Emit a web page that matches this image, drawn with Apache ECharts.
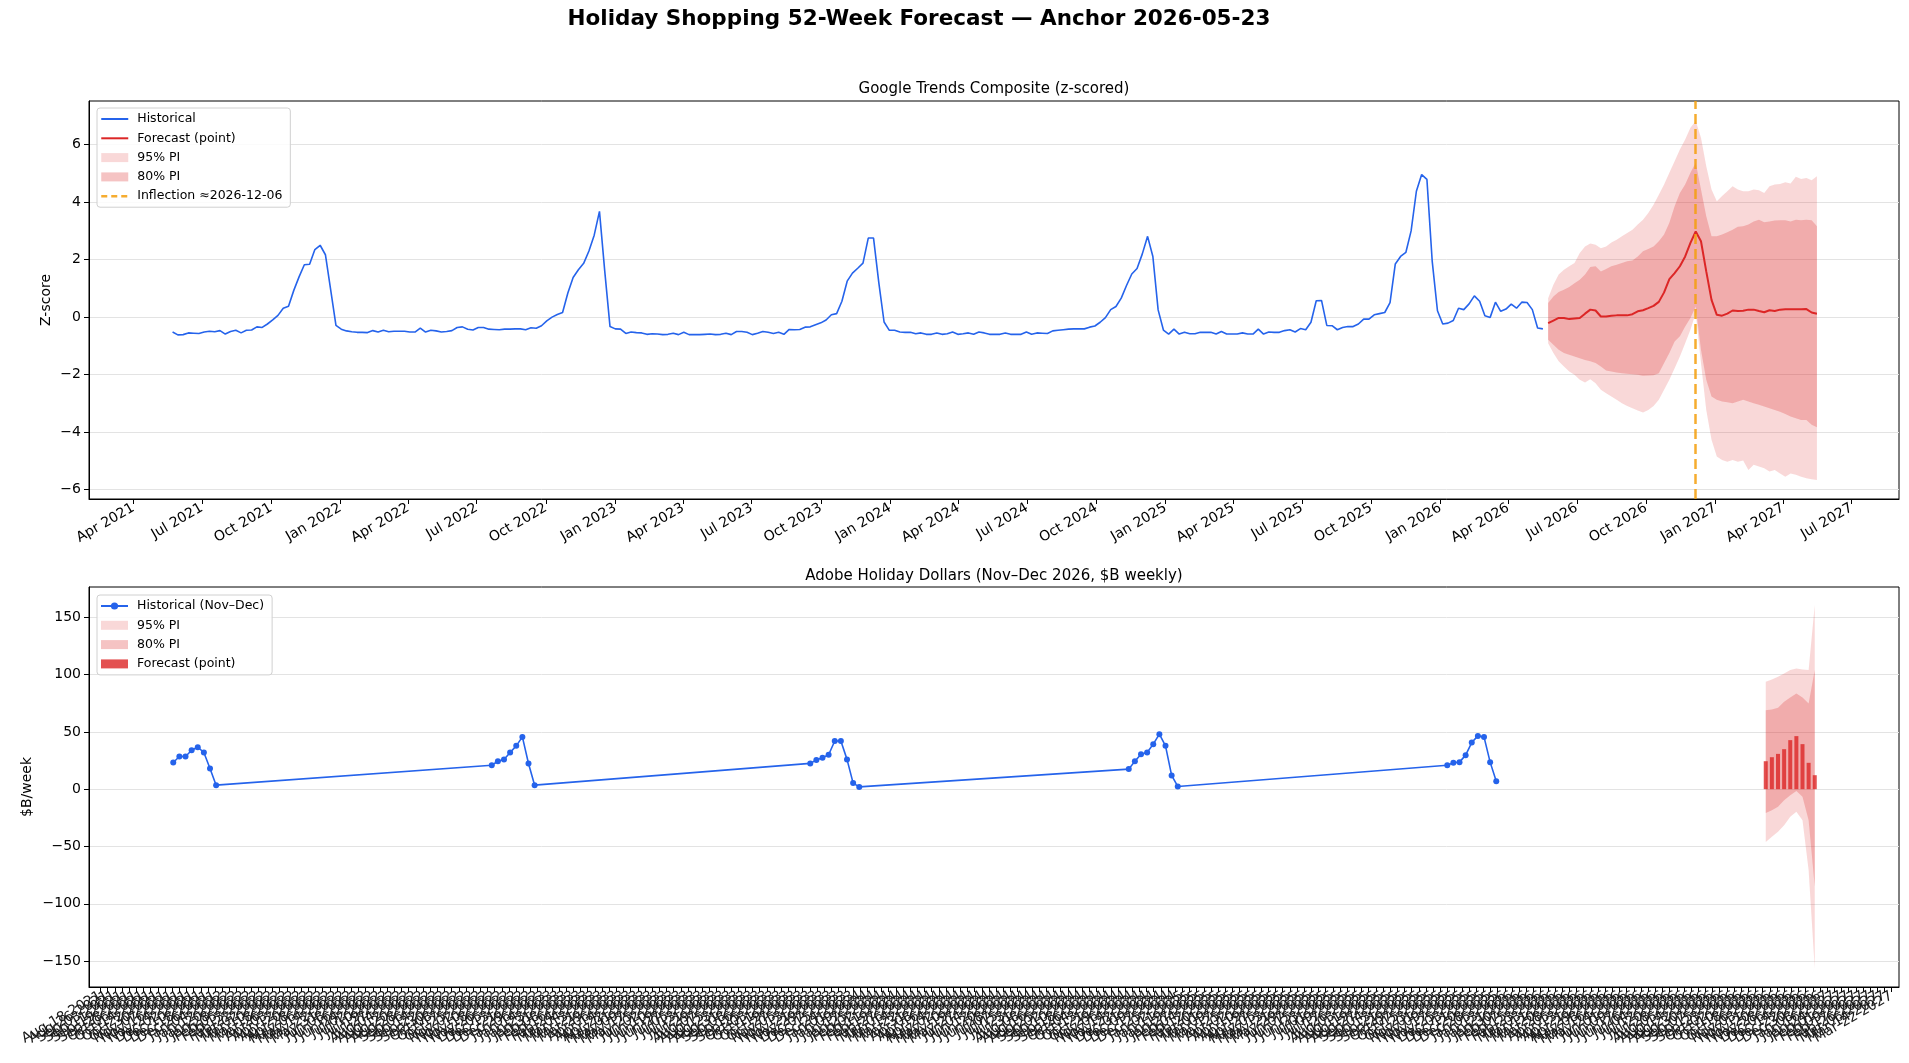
<!DOCTYPE html>
<html><head><meta charset="utf-8">
<script src="https://cdn.jsdelivr.net/npm/echarts@6/dist/echarts.min.js"></script>
<style>html,body{margin:0;padding:0;background:#fff}#c{width:1909px;height:1063px}</style>
</head><body><div id="c"></div>
<script>
// ---------------- DATA ----------------
const histStart = '2021-05-23';   // weekly (Sundays)
const histValues = [
 -0.52,-0.62,-0.61,-0.55,-0.56,-0.57,-0.52,-0.49,-0.51,-0.47,
 -0.59,-0.50,-0.46,-0.55,-0.46,-0.45,-0.34,-0.36,-0.24,-0.10,
  0.06, 0.31, 0.38, 0.93, 1.40, 1.82, 1.84, 2.35, 2.50, 2.17,
  0.95,-0.29,-0.42,-0.48,-0.51,-0.53,-0.53,-0.54,-0.47,-0.52,
 -0.46,-0.51,-0.49,-0.49,-0.49,-0.52,-0.52,-0.38,-0.52,-0.46,
 -0.48,-0.52,-0.50,-0.47,-0.36,-0.34,-0.42,-0.45,-0.36,-0.36,
 -0.42,-0.43,-0.44,-0.42,-0.42,-0.41,-0.41,-0.44,-0.37,-0.39,
 -0.30,-0.13, 0.00, 0.09, 0.16, 0.84, 1.38, 1.65, 1.87, 2.30,
  2.85, 3.68, 1.60,-0.33,-0.41,-0.42,-0.57,-0.52,-0.54,-0.55,
 -0.60,-0.58,-0.59,-0.61,-0.60,-0.56,-0.61,-0.53,-0.61,-0.61,
 -0.61,-0.60,-0.59,-0.61,-0.60,-0.56,-0.61,-0.50,-0.50,-0.53,
 -0.61,-0.56,-0.50,-0.53,-0.57,-0.53,-0.60,-0.43,-0.44,-0.43,
 -0.35,-0.34,-0.27,-0.20,-0.10, 0.08, 0.12, 0.55, 1.25, 1.53,
  1.70, 1.88, 2.75, 2.75, 1.20,-0.17,-0.46,-0.46,-0.52,-0.53,
 -0.53,-0.58,-0.55,-0.60,-0.60,-0.55,-0.60,-0.58,-0.52,-0.60,
 -0.58,-0.55,-0.60,-0.52,-0.55,-0.60,-0.60,-0.60,-0.55,-0.60,
 -0.60,-0.60,-0.52,-0.60,-0.55,-0.56,-0.57,-0.48,-0.46,-0.44,
 -0.42,-0.41,-0.41,-0.41,-0.35,-0.31,-0.18,-0.02, 0.26, 0.37,
  0.66, 1.10, 1.50, 1.69, 2.20, 2.81, 2.11, 0.25,-0.45,-0.59,
 -0.42,-0.59,-0.53,-0.58,-0.58,-0.53,-0.53,-0.53,-0.59,-0.50,
 -0.59,-0.59,-0.59,-0.55,-0.59,-0.59,-0.42,-0.59,-0.52,-0.53,
 -0.53,-0.47,-0.44,-0.52,-0.40,-0.44,-0.18, 0.57, 0.58,-0.29,
 -0.30,-0.44,-0.36,-0.33,-0.33,-0.24,-0.07,-0.07, 0.08, 0.12,
  0.16, 0.50, 1.85, 2.11, 2.25, 3.00, 4.38, 4.96, 4.79, 1.95,
  0.22,-0.24,-0.21,-0.12, 0.31, 0.26, 0.46, 0.74, 0.55, 0.05,
 -0.01, 0.52, 0.20, 0.28, 0.45, 0.31, 0.52, 0.51, 0.26,-0.38,
 -0.41
];
const fcStart = '2026-05-24';      // weekly (Sundays), 52 weeks
const fcPoint = [
 -0.21,-0.12,-0.03,-0.03,-0.07,-0.05,-0.03, 0.12, 0.26, 0.23,
  0.02, 0.02, 0.05, 0.06, 0.06, 0.06, 0.10, 0.20, 0.24, 0.31,
  0.39, 0.53, 0.86, 1.32, 1.53, 1.77, 2.11, 2.58, 2.98, 2.64,
  1.59, 0.60, 0.08, 0.05, 0.12, 0.23, 0.21, 0.22, 0.26, 0.26,
  0.21, 0.17, 0.24, 0.21, 0.26, 0.27, 0.27, 0.27, 0.27, 0.28,
  0.16, 0.12
];
const fcHi80 = [
  0.49, 0.72, 0.87, 0.95, 1.05, 1.18, 1.30, 1.48, 1.74, 1.77,
  1.59, 1.67, 1.77, 1.82, 1.88, 1.94, 1.97, 2.11, 2.29, 2.37,
  2.46, 2.64, 2.87, 3.28, 3.86, 4.32, 4.61, 5.02, 5.37, 4.44,
  3.51, 2.81, 2.81, 2.87, 2.95, 3.04, 3.14, 3.16, 3.22, 3.33,
  3.39, 3.30, 3.33, 3.36, 3.37, 3.37, 3.33, 3.39, 3.37, 3.39,
  3.37, 3.16
];
const fcLo80 = [
 -0.79,-0.96,-1.14,-1.25,-1.31,-1.37,-1.43,-1.49,-1.54,-1.60,
 -1.72,-1.86,-1.89,-1.93,-1.95,-1.97,-1.99,-2.01,-2.04,-2.03,
 -2.02,-1.95,-1.60,-1.25,-0.85,-0.67,-0.33,-0.03, 0.37,-1.14,
 -2.18,-2.76,-2.88,-2.94,-2.96,-3.00,-2.94,-2.88,-2.94,-3.00,
 -3.05,-3.11,-3.17,-3.23,-3.29,-3.37,-3.46,-3.52,-3.58,-3.58,
 -3.75,-3.83
];
const fcHi95 = [
  0.66, 1.13, 1.48, 1.65, 1.77, 1.88, 2.23, 2.46, 2.56, 2.52,
  2.40, 2.46, 2.60, 2.69, 2.81, 2.93, 3.04, 3.22, 3.39, 3.62,
  3.91, 4.26, 4.61, 5.02, 5.42, 5.83, 6.18, 6.59, 6.82, 6.24,
  5.25, 4.44, 4.03, 4.21, 4.38, 4.55, 4.44, 4.38, 4.38, 4.44,
  4.41, 4.32, 4.55, 4.61, 4.63, 4.69, 4.65, 4.88, 4.81, 4.84,
  4.76, 4.90
];
const fcLo95 = [
 -0.91,-1.25,-1.54,-1.72,-1.89,-2.01,-2.18,-2.28,-2.16,-2.30,
 -2.53,-2.65,-2.76,-2.88,-3.00,-3.09,-3.17,-3.25,-3.32,-3.23,
 -3.09,-2.88,-2.53,-2.18,-1.78,-1.37,-0.91,-0.44, 0.14,-1.60,
 -3.23,-4.27,-4.85,-4.97,-5.03,-4.97,-5.03,-4.99,-5.32,-5.14,
 -5.20,-5.26,-5.37,-5.32,-5.44,-5.56,-5.44,-5.49,-5.56,-5.61,
 -5.64,-5.67
];
const inflectionDate = '2026-12-06';
const topTickDates = [
 '2021-04-01','2021-07-01','2021-10-01','2022-01-01','2022-04-01','2022-07-01','2022-10-01',
 '2023-01-01','2023-04-01','2023-07-01','2023-10-01','2024-01-01','2024-04-01','2024-07-01',
 '2024-10-01','2025-01-01','2025-04-01','2025-07-01','2025-10-01','2026-01-01','2026-04-01',
 '2026-07-01','2026-10-01','2027-01-01','2027-04-01','2027-07-01'
];
const topYTicks = [-6,-4,-2,0,2,4,6];

const adobeHistDates = [
 '2021-11-07','2021-11-14','2021-11-21','2021-11-28','2021-12-05','2021-12-12','2021-12-19','2021-12-26',
 '2022-11-06','2022-11-13','2022-11-20','2022-11-27','2022-12-04','2022-12-11','2022-12-18','2022-12-25',
 '2023-11-05','2023-11-12','2023-11-19','2023-11-26','2023-12-03','2023-12-10','2023-12-17','2023-12-24','2023-12-31',
 '2024-11-03','2024-11-10','2024-11-17','2024-11-24','2024-12-01','2024-12-08','2024-12-15','2024-12-22','2024-12-29',
 '2025-11-02','2025-11-09','2025-11-16','2025-11-23','2025-11-30','2025-12-07','2025-12-14','2025-12-21','2025-12-28'
];
const adobeHistValues = [
 23.3, 28.5, 28.5, 34.0, 36.6, 32.0, 18.1, 3.5,
 20.9, 24.4, 25.9, 32.0, 37.8, 45.6, 22.4, 3.5,
 22.5, 25.5, 27.5, 30.0, 42.0, 42.0, 26.0, 5.3, 2.0,
 17.5, 24.4, 30.5, 32.0, 39.3, 48.0, 37.8, 12.0, 2.4,
 20.9, 23.0, 23.6, 29.7, 40.7, 46.5, 45.6, 23.6, 7.0
];
const adobeFcDates = ['2026-11-01','2026-11-08','2026-11-15','2026-11-22','2026-11-29','2026-12-06','2026-12-13','2026-12-20','2026-12-27'];
const adobeFcPoint = [24.4, 27.9, 30.8, 34.9, 42.8, 46.3, 39.3, 23.0, 12.2];
const adobeHi95 = [93.7, 95.7, 98.0, 100.9, 103.9, 105.3, 104.4, 103.9, 160.6];
const adobeHi80 = [68.9, 69.5, 71.0, 76.2, 80.0, 83.5, 80.0, 74.8, 103.9];
const adobeLo80 = [-20.7, -18.3, -15.4, -9.6, -5.2, -1.5, -6.7, -27.1, -85.2];
const adobeLo95 = [-46.0, -41.6, -37.2, -31.4, -24.1, -19.8, -27.1, -70.7, -156.5];
const bottomYTicks = [-150,-100,-50,0,50,100,150];
const bottomTickStart = '2021-08-10';
const bottomTickStepDays = 8.17;
const bottomTickCount = 253;

// ---------------- HELPERS ----------------
const DAY = 86400000;
function ts(s){ const p = s.split('-').map(Number); return Date.UTC(p[0], p[1]-1, p[2]); }
const MON = ['Jan','Feb','Mar','Apr','May','Jun','Jul','Aug','Sep','Oct','Nov','Dec'];
function fmtMonYear(v){ const d = new Date(v); return MON[d.getUTCMonth()] + ' ' + d.getUTCFullYear(); }
function fmtDay(v){ const d = new Date(v); const dd = d.getUTCDate(); return MON[d.getUTCMonth()] + ' ' + (dd<10?'0':'') + dd + ' ' + d.getUTCFullYear(); }
function fmtNum(v){ return v < 0 ? '\u2212' + Math.abs(v) : String(v); }
const weekly = (start, arr) => arr.map((v,i) => [ts(start) + i*7*DAY, v]);
const dated = (dates, arr) => arr.map((v,i) => [ts(dates[i]), v]);
const diff = (hi, lo) => hi.map((v,i) => +(v - lo[i]).toFixed(3));

const bottomTicks = [];
for (let i = 0; i < bottomTickCount; i++) bottomTicks.push(Math.round(ts(bottomTickStart) + i*bottomTickStepDays*DAY));

const FONT = 'DejaVu Sans';
const BLUE = '#2563eb', RED = '#dc2626', ORANGE = '#f59e0b';
const BAND95 = 'rgba(220,38,38,0.18)', BAND80 = 'rgba(220,38,38,0.25)', BAR = 'rgba(220,38,38,0.8)';

const legendNames = {
  'Historical':'Historical', 'Forecast (point)':'Forecast (point)', '95% PI':'95% PI', '80% PI':'80% PI',
  'Inflection':'Inflection \u22482026-12-06',
  'hist_b':'Historical (Nov\u2013Dec)', 'pi95_b':'95% PI', 'pi80_b':'80% PI', 'fc_bar':'Forecast (point)'
};

const X0MIN = ts('2021-02-01'), X0MAX = ts('2027-09-02');
const X1MIN = ts('2021-08-05'), X1MAX = ts('2027-03-31');

function yAxisCfg(idx, min, max, ticks, name, gap){
  return {
    type:'value', gridIndex: idx, min, max,
    name, nameLocation:'middle', nameRotate:90, nameGap: gap, nameMoveOverlap:false,
    nameTextStyle:{fontFamily:FONT, fontSize:14, color:'#000'},
    axisLine:{show:true, lineStyle:{color:'#000', width:1}},
    axisTick:{show:true, length:5, lineStyle:{color:'#000'}, customValues: ticks},
    axisLabel:{fontFamily:FONT, fontSize:14, color:'#000', margin:8, customValues: ticks, formatter: fmtNum},
    splitLine:{show:true, lineStyle:{color:'#e3e3e3', width:1}}
  };
}
// hidden time axis used by the series
function xDataAxis(idx, min, max){
  return {type:'time', gridIndex: idx, min, max, show:false, splitLine:{show:false}};
}
// visible value axis (same extent) carrying the tick marks and labels
function xLabelAxis(idx, min, max, ticks, fmt, fontSize, color){
  return {
    type:'value', gridIndex: idx, min, max, position:'bottom',
    axisLine:{show:true, onZero:false, lineStyle:{color:'#000', width:1}},
    axisTick:{show:true, length:5, lineStyle:{color:'#000'}, customValues: ticks},
    axisLabel:{fontFamily:FONT, fontSize, color, rotate:30, margin:8, customValues: ticks, formatter: fmt, hideOverlap:false},
    splitLine:{show:false}
  };
}
const bandLine = {opacity:0, width:0};
const hideSym = {opacity:0};

const legendBase = {
  orient:'vertical', left:97, padding:[4,8,4,3], itemGap:5.3, itemWidth:27, itemHeight:9,
  backgroundColor:'rgba(255,255,255,0.85)', borderColor:'#d0d0d0', borderWidth:1, borderRadius:3,
  textStyle:{fontFamily:FONT, fontSize:12.5, color:'#000', lineHeight:14, padding:[0,0,0,4]},
  formatter: n => legendNames[n] || n, selectedMode:false
};

const option = {
  animation:false, useUTC:true,
  backgroundColor:'#fff',
  title:[
    {text:'Holiday Shopping 52-Week Forecast \u2014 Anchor 2026-05-23', left:919, textAlign:'center', top:8, padding:0,
     textStyle:{fontFamily:FONT, fontSize:21.5, fontWeight:'bold', color:'#000'}},
    {text:'Google Trends Composite (z-scored)', left:994, textAlign:'center', top:82, padding:0,
     textStyle:{fontFamily:FONT, fontSize:15, fontWeight:'normal', color:'#000'}},
    {text:'Adobe Holiday Dollars (Nov\u2013Dec 2026, $B weekly)', left:994, textAlign:'center', top:569, padding:0,
     textStyle:{fontFamily:FONT, fontSize:15, fontWeight:'normal', color:'#000'}}
  ],
  grid:[
    {left:89, top:101, width:1810, height:398, show:true, borderColor:'#000', borderWidth:1, backgroundColor:'transparent', containLabel:false, outerBoundsMode:'none'},
    {left:89, top:587, width:1810, height:400, show:true, borderColor:'#000', borderWidth:1, backgroundColor:'transparent', containLabel:false, outerBoundsMode:'none'}
  ],
  xAxis:[
    xDataAxis(0, X0MIN, X0MAX),
    xLabelAxis(0, X0MIN, X0MAX, topTickDates.map(ts), fmtMonYear, 14, '#000'),
    xDataAxis(1, X1MIN, X1MAX),
    xLabelAxis(1, X1MIN, X1MAX, bottomTicks, fmtDay, 14, '#1a1a1a')
  ],
  yAxis:[
    yAxisCfg(0, -6.33, 7.52, topYTicks, 'Z-score', 36),
    yAxisCfg(1, -172.6, 176.4, bottomYTicks, '$B/week', 55)
  ],
  legend:[
    Object.assign({}, legendBase, {top:108, data:[
       {name:'Historical', itemStyle:hideSym},
       {name:'Forecast (point)', itemStyle:hideSym},
       {name:'95% PI', icon:'rect', itemStyle:{color:BAND95}},
       {name:'80% PI', icon:'rect', itemStyle:{color:'rgba(220,38,38,0.28)'}},
       {name:'Inflection', itemStyle:hideSym, lineStyle:{color:ORANGE, width:2.5, type:[6,4], opacity:0.85}}
    ]}),
    Object.assign({}, legendBase, {top:595, data:[
       {name:'hist_b'},
       {name:'pi95_b', icon:'rect', itemStyle:{color:BAND95}},
       {name:'pi80_b', icon:'rect', itemStyle:{color:'rgba(220,38,38,0.28)'}},
       {name:'fc_bar', icon:'rect', itemStyle:{color:BAR}}
    ]})
  ],
  series:[
    // --- top chart ---
    {name:'Historical', type:'line', xAxisIndex:0, yAxisIndex:0, data: weekly(histStart, histValues),
     symbol:'none', color:BLUE, lineStyle:{color:BLUE, width:1.6}, silent:true, z:3},
    {name:'lo95', type:'line', xAxisIndex:0, yAxisIndex:0, stack:'t95', stackStrategy:'all',
     data: weekly(fcStart, fcLo95), symbol:'none', lineStyle:bandLine, silent:true, z:2},
    {name:'95% PI', type:'line', xAxisIndex:0, yAxisIndex:0, stack:'t95', stackStrategy:'all',
     data: weekly(fcStart, diff(fcHi95, fcLo95)), symbol:'none', color:BAND95, lineStyle:bandLine,
     areaStyle:{color:BAND95, opacity:1}, silent:true, z:2},
    {name:'lo80', type:'line', xAxisIndex:0, yAxisIndex:0, stack:'t80', stackStrategy:'all',
     data: weekly(fcStart, fcLo80), symbol:'none', lineStyle:bandLine, silent:true, z:2},
    {name:'80% PI', type:'line', xAxisIndex:0, yAxisIndex:0, stack:'t80', stackStrategy:'all',
     data: weekly(fcStart, diff(fcHi80, fcLo80)), symbol:'none', color:BAND80, lineStyle:bandLine,
     areaStyle:{color:BAND80, opacity:1}, silent:true, z:2},
    {name:'Forecast (point)', type:'line', xAxisIndex:0, yAxisIndex:0, data: weekly(fcStart, fcPoint),
     symbol:'none', color:RED, lineStyle:{color:RED, width:2}, silent:true, z:4},
    {name:'Inflection', type:'line', xAxisIndex:0, yAxisIndex:0, data:[], symbol:'none',
     color:ORANGE, lineStyle:{color:ORANGE, width:2.5, type:[10,5], opacity:0.85}, silent:true, z:5,
     markLine:{silent:true, symbol:['none','none'], label:{show:false}, animation:false,
       lineStyle:{color:ORANGE, width:2.5, type:[10,5], opacity:0.85},
       data:[{xAxis: ts(inflectionDate)}]}},
    // --- bottom chart ---
    {name:'hist_b', type:'line', xAxisIndex:2, yAxisIndex:1, data: dated(adobeHistDates, adobeHistValues),
     symbol:'circle', symbolSize:6, showSymbol:true, color:BLUE, itemStyle:{color:BLUE},
     lineStyle:{color:BLUE, width:1.6}, silent:true, z:3},
    {name:'lo95_b', type:'line', xAxisIndex:2, yAxisIndex:1, stack:'b95', stackStrategy:'all',
     data: dated(adobeFcDates, adobeLo95), symbol:'none', lineStyle:bandLine, silent:true, z:2},
    {name:'pi95_b', type:'line', xAxisIndex:2, yAxisIndex:1, stack:'b95', stackStrategy:'all',
     data: dated(adobeFcDates, diff(adobeHi95, adobeLo95)), symbol:'none', color:BAND95, lineStyle:bandLine,
     areaStyle:{color:BAND95, opacity:1}, silent:true, z:2},
    {name:'lo80_b', type:'line', xAxisIndex:2, yAxisIndex:1, stack:'b80', stackStrategy:'all',
     data: dated(adobeFcDates, adobeLo80), symbol:'none', lineStyle:bandLine, silent:true, z:2},
    {name:'pi80_b', type:'line', xAxisIndex:2, yAxisIndex:1, stack:'b80', stackStrategy:'all',
     data: dated(adobeFcDates, diff(adobeHi80, adobeLo80)), symbol:'none', color:BAND80, lineStyle:bandLine,
     areaStyle:{color:BAND80, opacity:1}, silent:true, z:2},
    {name:'fc_bar', type:'bar', xAxisIndex:2, yAxisIndex:1, data: dated(adobeFcDates, adobeFcPoint),
     barWidth:4, color:BAR, itemStyle:{color:BAR}, silent:true, z:4}
  ]
};
const chart = echarts.init(document.getElementById('c'), null, {renderer:'canvas'});
chart.setOption(option);
</script></body></html>
